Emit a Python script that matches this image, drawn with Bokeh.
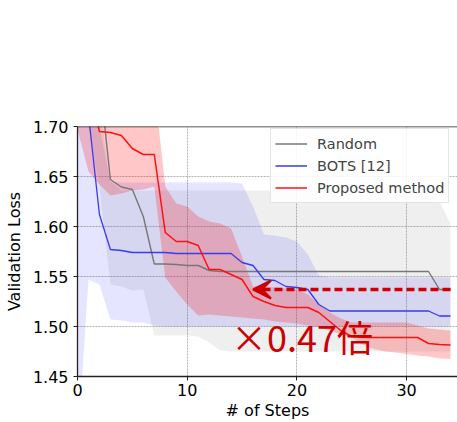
from bokeh.plotting import figure
from bokeh.models import (Range1d, Span, Arrow, VeeHead, Legend, LegendItem,
                          FixedTicker, NumeralTickFormatter)
from bokeh.core.properties import value
from bokeh.embed import file_html
from bokeh.resources import INLINE

steps = list(range(35))

random_loss = [1.85, 1.80, 1.751, 1.647, 1.6395, 1.637, 1.610, 1.5625, 1.5625, 1.562,
               1.561, 1.561, 1.556, 1.555, 1.555, 1.555, 1.555, 1.555, 1.555, 1.555,
               1.555, 1.555, 1.555, 1.555, 1.555, 1.555, 1.555, 1.555, 1.555, 1.555,
               1.555, 1.555, 1.555, 1.537, 1.537]
random_upper = [1.85, 1.80, 1.72, 1.645, 1.636, 1.636, 1.636, 1.636, 1.636, 1.636,
                1.636, 1.636, 1.636, 1.636, 1.636, 1.636, 1.636, 1.636, 1.636, 1.636,
                1.636, 1.636, 1.636, 1.636, 1.636, 1.636, 1.636, 1.636, 1.636, 1.636,
                1.636, 1.636, 1.636, 1.625, 1.603]
random_lower = [1.75, 1.70, 1.64, 1.542, 1.540, 1.536, 1.537, 1.491, 1.491, 1.491,
                1.491, 1.490, 1.484, 1.476, 1.475, 1.475, 1.475, 1.475, 1.475, 1.475,
                1.475, 1.475, 1.475, 1.475, 1.475, 1.475, 1.475, 1.475, 1.475, 1.475,
                1.475, 1.475, 1.475, 1.475, 1.475]

bots_loss = [1.80, 1.712, 1.612, 1.577, 1.576, 1.574, 1.574, 1.574, 1.574, 1.573,
             1.573, 1.573, 1.573, 1.573, 1.573, 1.564, 1.561, 1.547, 1.546, 1.540,
             1.539, 1.537, 1.522, 1.5155, 1.5155, 1.5155, 1.5155, 1.5155, 1.5155, 1.5155,
             1.5155, 1.5155, 1.5155, 1.5105, 1.5105]
bots_upper = [1.90, 1.80, 1.70, 1.645, 1.644, 1.644, 1.644, 1.644, 1.644, 1.644,
              1.644, 1.644, 1.644, 1.644, 1.644, 1.643, 1.620, 1.592, 1.591, 1.589,
              1.585, 1.572, 1.551, 1.549, 1.549, 1.549, 1.549, 1.549, 1.549, 1.549,
              1.549, 1.549, 1.549, 1.549, 1.549]
bots_lower = [1.377, 1.547, 1.542, 1.507, 1.506, 1.504, 1.504, 1.501, 1.500, 1.500,
              1.500, 1.500, 1.500, 1.500, 1.500, 1.500, 1.500, 1.500, 1.500, 1.500,
              1.500, 1.500, 1.500, 1.500, 1.500, 1.500, 1.500, 1.500, 1.500, 1.500,
              1.500, 1.500, 1.500, 1.500, 1.500]

proposed_loss = [1.80, 1.745, 1.695, 1.694, 1.691, 1.678, 1.672, 1.672, 1.594, 1.585,
                 1.585, 1.581, 1.557, 1.557, 1.552, 1.547, 1.530, 1.525, 1.521, 1.519,
                 1.519, 1.519, 1.514, 1.505, 1.496, 1.490, 1.489, 1.489, 1.489, 1.489,
                 1.489, 1.489, 1.483, 1.482, 1.4815]
proposed_upper = [1.85, 1.80, 1.80, 1.80, 1.80, 1.80, 1.80, 1.74, 1.640, 1.623,
                  1.620, 1.610, 1.605, 1.603, 1.598, 1.570, 1.540, 1.540, 1.539, 1.538,
                  1.537, 1.532, 1.522, 1.514, 1.508, 1.504, 1.504, 1.504, 1.504, 1.504,
                  1.504, 1.501, 1.498, 1.497, 1.496]
proposed_lower = [1.697, 1.655, 1.642, 1.631, 1.633, 1.636, 1.637, 1.640, 1.549, 1.535,
                  1.522, 1.511, 1.512, 1.511, 1.510, 1.509, 1.508, 1.507, 1.505, 1.504,
                  1.503, 1.501, 1.499, 1.496, 1.492, 1.489, 1.482, 1.4775, 1.475, 1.474,
                  1.4725, 1.471, 1.470, 1.468, 1.4676]

series_names = ["Random", "BOTS [12]", "Proposed method"]
x_ticks = [0, 10, 20, 30]
y_ticks = [1.45, 1.50, 1.55, 1.60, 1.65, 1.70]

# annotation: steps needed by the proposed method to reach Random's final loss
arrow_x_start = steps[-1]
arrow_x_end = 16
arrow_y = random_loss[-1]
ratio = arrow_x_end / arrow_x_start
label_x = 14.0
label_y = 1.491

p = figure(width=457, height=422, x_range=Range1d(0, 34.64), y_range=Range1d(1.45, 1.70),
           output_backend="svg", toolbar_location=None,
           min_border_left=77, min_border_right=0, min_border_top=126, min_border_bottom=44)
p.outline_line_color = None
p.background_fill_color = "white"
p.border_fill_color = "white"

# bands
p.varea(x=steps, y1=random_lower, y2=random_upper, fill_color="#808080", fill_alpha=0.13)
p.varea(x=steps, y1=bots_lower, y2=bots_upper, fill_color="#0000ff", fill_alpha=0.10)
p.varea(x=steps, y1=proposed_lower, y2=proposed_upper, fill_color="#ff0000", fill_alpha=0.22)

r_rand = p.line(steps, random_loss, line_color="#777777", line_width=1.4)
r_bots = p.line(steps, bots_loss, line_color="#3a3aee", line_width=1.3)
r_prop = p.line(steps, proposed_loss, line_color="#ff1010", line_width=1.5)

# top spine
p.add_layout(Span(location=p.y_range.end, dimension="width", line_color="#222222", line_width=1.3))

# grid
for g in (p.xgrid, p.ygrid):
    g.grid_line_color = "#aaaaaa"
    g.grid_line_dash = "2 1"
    g.grid_line_width = 0.9
p.xgrid.ticker = FixedTicker(ticks=x_ticks)
p.ygrid.ticker = FixedTicker(ticks=y_ticks)

# axes
p.xaxis.ticker = FixedTicker(ticks=x_ticks)
p.yaxis.ticker = FixedTicker(ticks=y_ticks)
p.yaxis.formatter = NumeralTickFormatter(format="0.00")
for ax in (p.xaxis[0], p.yaxis[0]):
    ax.axis_line_color = "#222222"
    ax.axis_line_width = 1.3
    ax.major_tick_line_color = "#222222"
    ax.major_tick_out = 4
    ax.major_tick_in = 0
    ax.minor_tick_line_color = None
    ax.major_label_text_font = "DejaVu Sans"
    ax.major_label_text_font_size = "16px"
    ax.major_label_text_color = "black"
    ax.axis_label_text_font = "DejaVu Sans"
    ax.axis_label_text_font_size = "16px"
    ax.axis_label_text_font_style = "normal"
    ax.axis_label_text_color = "black"
p.xaxis.axis_label = "# of Steps"
p.yaxis.axis_label = "Validation Loss"
p.xaxis.major_label_standoff = 3
p.xaxis.axis_label_standoff = 2
p.yaxis.major_label_standoff = 5
p.yaxis.axis_label_standoff = 6

# annotation arrow and text
p.add_layout(Arrow(end=VeeHead(size=18, fill_color="#cc0000", line_color="#cc0000", line_width=2),
                   x_start=arrow_x_start, y_start=arrow_y, x_end=arrow_x_end, y_end=arrow_y,
                   line_color="#cc0000", line_width=3.4, line_dash="8 4"))
p.text(x=[label_x], y=[label_y], text=["×{:.2f}倍".format(ratio)],
       text_font=value("Noto Sans CJK JP"), text_font_size="36px",
       text_color="#cc0000", text_baseline="alphabetic", text_align="left")

legend = Legend(items=[LegendItem(label=series_names[0], renderers=[r_rand]),
                       LegendItem(label=series_names[1], renderers=[r_bots]),
                       LegendItem(label=series_names[2], renderers=[r_prop])],
                location=(193, 173))
legend.label_text_font = "DejaVu Sans"
legend.label_text_font_size = "14.5px"
legend.glyph_width = 32
legend.glyph_height = 21
legend.label_height = 21
legend.spacing = 1
legend.padding = 4
legend.margin = 0
legend.label_standoff = 10
legend.border_line_color = "#cccccc"
legend.background_fill_alpha = 0.85
p.add_layout(legend)

open("out.html", "w").write(file_html(p, INLINE))
